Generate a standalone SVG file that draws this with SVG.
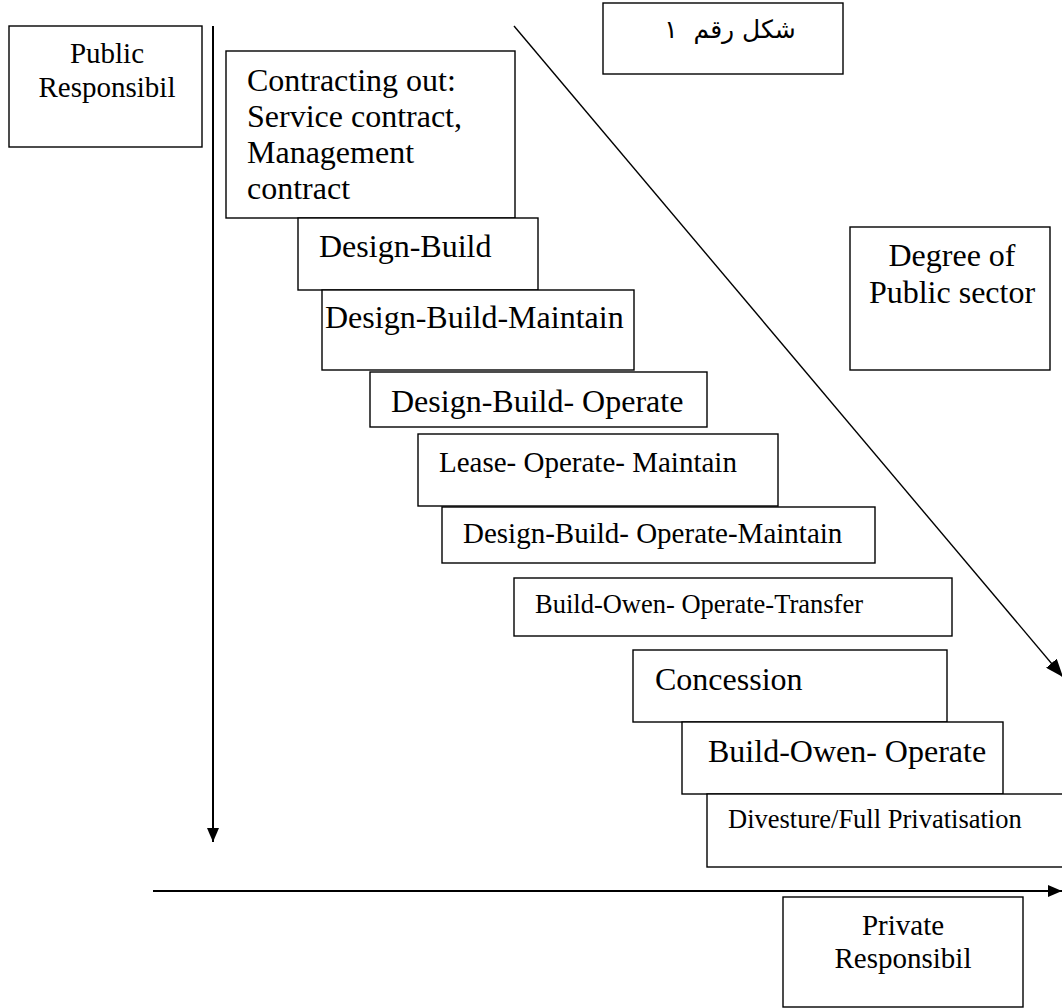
<svg xmlns="http://www.w3.org/2000/svg" width="1062" height="1008" viewBox="0 0 1062 1008">
<style>
.box{fill:#fff;stroke:#000;stroke-width:1.4}
.t{font-family:"Liberation Serif","Times New Roman",serif;fill:#000}
.f32{font-size:32px}
.f29{font-size:29px}
.f26{font-size:26.5px}
.c{text-anchor:middle}
.ln{stroke:#000;fill:none}
</style>
<defs>
<marker id="ah" markerUnits="userSpaceOnUse" markerWidth="16" markerHeight="12" refX="14" refY="6" orient="auto">
<path d="M0,0 L14,6 L0,12 Z" fill="#000"/>
</marker>
<marker id="ah2" markerUnits="userSpaceOnUse" markerWidth="20" markerHeight="14" refX="18" refY="7" orient="auto">
<path d="M0,0 L18,7 L0,14 Z" fill="#000"/>
</marker>
</defs>
<rect width="1062" height="1008" fill="#fff"/>
<g id="connectors">
<line class="ln" x1="213" y1="26" x2="213" y2="842" stroke-width="2" marker-end="url(#ah)"/>
<line class="ln" x1="153" y1="891" x2="1062" y2="891" stroke-width="2" marker-end="url(#ah)"/>
<line class="ln" x1="514" y1="26" x2="1063" y2="677" stroke-width="1.4" marker-end="url(#ah2)"/>
</g>
<g id="public">
<rect class="box" x="9" y="26" width="193" height="121"/>
<text class="t f29 c" x="107" y="63">Public</text>
<text class="t f29 c" x="107" y="97">Responsibil</text>
</g>
<g id="figure-label">
<rect class="box" x="603" y="3" width="240" height="71"/>
<text x="730" y="38" xml:space="preserve" style="font-family:'DejaVu Sans','Liberation Sans',sans-serif;font-size:25px;text-anchor:middle" direction="rtl">شكل رقم  ١</text>
</g>
<g id="degree">
<rect class="box" x="850" y="227" width="200" height="143"/>
<text class="t f32 c" x="952" y="266">Degree of</text>
<text class="t f32 c" x="952" y="303">Public sector</text>
</g>
<g id="contracting">
<rect class="box" x="226" y="51" width="289" height="167"/>
<text class="t f32" x="247" y="91">Contracting out:</text>
<text class="t f32" x="247" y="127">Service contract,</text>
<text class="t f32" x="247" y="163">Management</text>
<text class="t f32" x="247" y="199">contract</text>
</g>
<g id="db">
<rect class="box" x="298" y="218" width="240" height="72"/>
<text class="t f32" x="319" y="257">Design-Build</text>
</g>
<g id="dbm">
<rect class="box" x="322" y="290" width="312" height="80"/>
<text class="t f32" x="325" y="328">Design-Build-Maintain</text>
</g>
<g id="dbo">
<rect class="box" x="370" y="372" width="337" height="55"/>
<text class="t f32" x="391" y="412">Design-Build- Operate</text>
</g>
<g id="lom">
<rect class="box" x="418" y="434" width="360" height="72"/>
<text class="t f29" x="439" y="472">Lease- Operate- Maintain</text>
</g>
<g id="dbom">
<rect class="box" x="442" y="507" width="433" height="56"/>
<text class="t f29" x="463" y="543">Design-Build- Operate-Maintain</text>
</g>
<g id="boot">
<rect class="box" x="514" y="578" width="438" height="58"/>
<text class="t f26" x="535" y="613">Build-Owen- Operate-Transfer</text>
</g>
<g id="concession">
<rect class="box" x="633" y="650" width="314" height="72"/>
<text class="t f32" x="655" y="690">Concession</text>
</g>
<g id="boo">
<rect class="box" x="682" y="722" width="321" height="72"/>
<text class="t f32" x="708" y="762">Build-Owen- Operate</text>
</g>
<g id="divesture">
<rect class="box" x="707" y="794" width="365" height="73"/>
<text class="t f26" x="728" y="828">Divesture/Full Privatisation</text>
</g>
<g id="private">
<rect class="box" x="783" y="897" width="240" height="110"/>
<text class="t f29 c" x="903" y="935">Private</text>
<text class="t f29 c" x="903" y="968">Responsibil</text>
</g>
</svg>
